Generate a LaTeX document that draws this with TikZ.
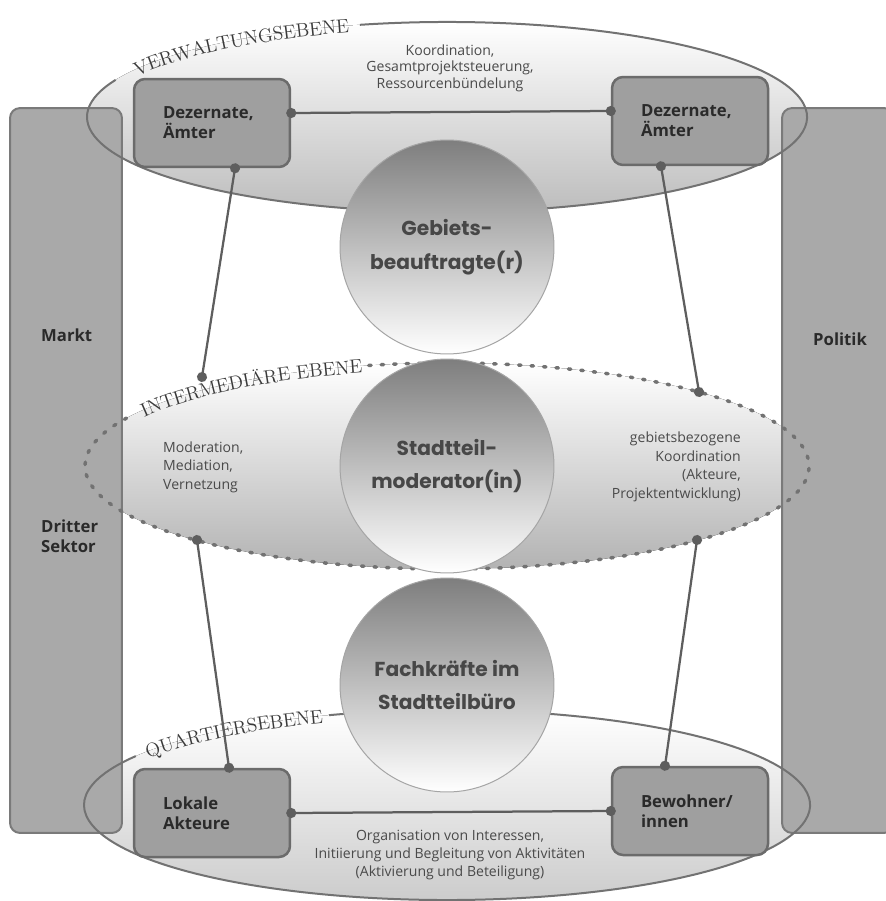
\documentclass[tikz,border=0pt]{standalone}
\usepackage{fontspec}
\newfontfamily\boxfont{Open Sans}
\newfontfamily\circfont{Poppins}
\usetikzlibrary{arrows.meta,decorations.text}
\definecolor{barfill}{HTML}{A9A9A9}
\definecolor{barline}{HTML}{7A7A7A}
\definecolor{boxfill}{HTML}{9F9F9F}
\definecolor{boxline}{HTML}{6B6B6B}
\definecolor{boxtext}{HTML}{2A2A2A}
\definecolor{circtop}{HTML}{7E7E7E}
\definecolor{circline}{HTML}{A5A5A5}
\definecolor{circtext}{HTML}{474747}
\definecolor{lvlline}{HTML}{727272}
\definecolor{lvltext}{HTML}{3A3A3A}
\definecolor{conline}{HTML}{5E5E5E}
\definecolor{infotext}{HTML}{4A4A4A}
\hyphenpenalty=10000

\begin{document}
\begin{tikzpicture}[x=0.02cm, y=-0.02cm,
    bar/.style={draw=barline, line width=0.04cm, fill=barfill, rounded corners=0.2cm,
        minimum width=2.24cm, minimum height=14.5cm},
    barlbl/.style={font=\boxfont\bfseries\fontsize{9.5}{11.5}\selectfont, text=boxtext, align=left},
    amt/.style={draw=boxline, line width=0.05cm, fill=boxfill, rounded corners=0.22cm,
        minimum width=3.12cm, minimum height=1.76cm, text width=1.96cm, inner xsep=0.58cm,
        align=left, font=\boxfont\bfseries\fontsize{9.5}{11.5}\selectfont, text=boxtext},
    kreis/.style={circle, draw=circline, line width=0.02cm, top color=circtop, bottom color=white,
        minimum size=4.28cm, align=center, font=\circfont\bfseries\fontsize{11.5}{19}\selectfont, text=circtext},
    info/.style={align=center, font=\boxfont\fontsize{8}{10.5}\selectfont, text=infotext},
    lvl/.style={draw=lvlline, line width=0.04cm},
    lvldot/.style={draw=lvlline, line width=0.07cm, line cap=round, dash pattern=on 0.05cm off 0.2cm},
    verb/.style={draw=conline, line width=0.045cm, {Circle[length=0.2cm]}-{Circle[length=0.2cm]},
        shorten <=-0.1cm, shorten >=-0.1cm},
    ebene/.style={decorate, decoration={text along path, text align=center, raise=-4pt,
        text color=lvltext, text={|\fontsize{11}{11}\selectfont|#1}}}
]
\useasboundingbox (0,0) rectangle (885,901);

% ebenen (flaechen)
\fill[top color=white, bottom color=black!26] (447,117) ellipse [x radius=360, y radius=95];
\fill[top color=white, bottom color=black!30] (447,466) ellipse [x radius=362, y radius=103];
\fill[top color=white, bottom color=black!20] (447,805) ellipse [x radius=363, y radius=95];

% saeulen
\node[bar] (marktbar) at (66,470.5) {};
\node[bar] (politikbar) at (838,470.5) {};
\node[barlbl, anchor=west] (markt) at (35,335) {Markt};
\node[barlbl, anchor=west] (dritter) at (35,536) {Dritter\\Sektor};
\node[barlbl, anchor=west] (politik) at (807,339) {Politik};

% ebenen (raender und namen)
\draw[lvl] ([shift={(447,117)}]-104:360 and 95) arc[start angle=-104, end angle=203, x radius=360, y radius=95];
\path[ebene=VERWALTUNGSEBENE] ([shift={(447,117)}]-160:360 and 95) arc[start angle=-160, end angle=-101, x radius=360, y radius=95];
\draw[lvldot] ([shift={(447,466)}]-102.5:362 and 103) arc[start angle=-102.5, end angle=209, x radius=362, y radius=103];
\path[ebene=INTERMEDIÄRE EBENE] ([shift={(447,466)}]-154:362 and 103) arc[start angle=-154, end angle=-100, x radius=362, y radius=103];
\draw[lvl] ([shift={(447,805)}]-109:363 and 95) arc[start angle=-109, end angle=211, x radius=363, y radius=95];
\path[ebene=QUARTIERSEBENE] ([shift={(447,805)}]-153:363 and 95) arc[start angle=-153, end angle=-106, x radius=363, y radius=95];

% akteure
\node[amt] (amtl) at (212,123) {Dezernate,\\Ämter};
\node[amt] (amtr) at (690,121) {Dezernate,\\Ämter};
\node[amt] (lok) at (212,813) {Lokale\\Akteure};
\node[amt] (bew) at (690,811) {Bewohner/\\innen};

\coordinate (mtl) at (202,377);
\coordinate (mtr) at (699,392);
\coordinate (mbl) at (197,540);
\coordinate (mbr) at (697,540);

\draw[verb] ([yshift=0.2cm]amtl.east) -- ([yshift=0.2cm]amtr.west);
\draw[verb] (lok.east) -- (bew.west);
\draw[verb] ([xshift=0.46cm]amtl.south) -- (mtl);
\draw[verb] ([xshift=-0.58cm]amtr.south) -- (mtr);
\draw[verb] (mbl) -- ([xshift=0.34cm]lok.north);
\draw[verb] (mbr) -- ([xshift=-0.5cm]bew.north);

% personen
\node[kreis] (gebiet) at (447,247) {Gebiets-\\beauftragte(r)};
\node[kreis] (moderat) at (447,466) {Stadtteil-\\moderator(in)};
\node[kreis] (fach) at (447,685) {Fachkräfte im\\Stadtteilbüro};

% aufgaben
\node[info, font=\boxfont\fontsize{8}{9.4}\selectfont] (koord) at (450,68) {Koordination,\\Gesamtprojektsteuerung,\\Ressourcenbündelung};
\node[info, align=left, anchor=west] (moder) at (157,467) {Moderation,\\Mediation,\\Vernetzung};
\node[info, align=right, anchor=east] (gebkoord) at (747,467) {gebietsbezogene\\Koordination\\(Akteure,\\Projektentwicklung)};
\node[info] (orga) at (450,855) {Organisation von Interessen,\\Initiierung und Begleitung von Aktivitäten\\(Aktivierung und Beteiligung)};
\end{tikzpicture}
\end{document}
